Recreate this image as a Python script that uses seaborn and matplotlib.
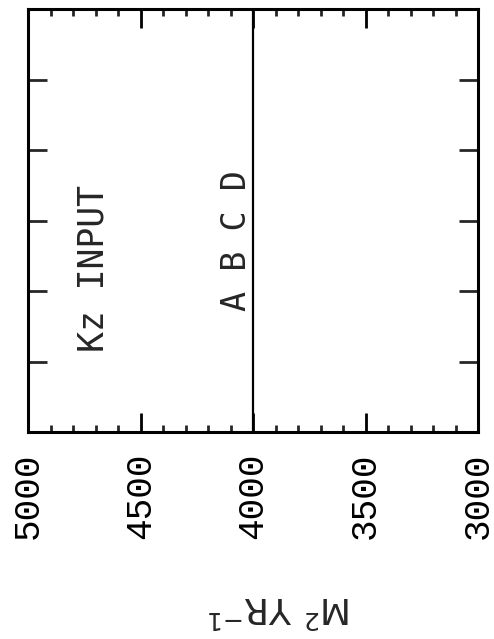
import matplotlib
matplotlib.use("Agg")
import matplotlib.pyplot as plt
import seaborn as sns
import numpy as np
from matplotlib.ticker import MultipleLocator

# data
kz_values = [4000, 4000]          # Kz input (constant) for runs A, B, C, D
positions = [0, 6]
x_ticks = [5000, 4500, 4000, 3500, 3000]
x_tick_labels = ["5000", "4500", "4000", "3500", "3000"]
y_ticks = [1, 2, 3, 4, 5]
runs_label = "A B C D"
title_text = "Kz INPUT"
unit_label = "M$^2$ YR$^{-1}$"

sns.set_style("ticks")
plt.rcParams['font.family'] = ['DejaVu Sans Mono', 'DejaVu Sans']
plt.rcParams['mathtext.fontset'] = 'dejavusans'

L, R, T, B = 28, 478, 9, 432
fig = plt.figure(figsize=(4.94, 6.39), dpi=100)
ax = fig.add_axes([L/494, 1-B/639, (R-L)/494, (B-T)/639])

sns.lineplot(x=kz_values, y=positions, orient="y", sort=False, estimator=None,
             color="black", linewidth=1.6, ax=ax)

ax.set_xlim(5000, 3000)
ax.set_ylim(0, 6)
ax.set_xticks(x_ticks)
ax.set_xticklabels(x_tick_labels, rotation=90, fontsize=26,
                   family=['Liberation Mono', 'DejaVu Sans'])
ax.xaxis.set_minor_locator(MultipleLocator(100))
ax.set_yticks(y_ticks)
ax.set_yticklabels([])

for s in ax.spines.values():
    s.set_linewidth(2.2)
    s.set_color("black")

ax.tick_params(axis="x", which="major", direction="in", length=14, width=2,
               top=True, bottom=True, pad=15, colors="black")
ax.tick_params(axis="x", which="minor", direction="in", length=5, width=2,
               top=True, bottom=True)
ax.tick_params(axis="y", which="major", direction="in", length=14, width=2,
               left=True, right=True)

def xdata(px):
    return 5000 - (px - L) * 2000 / (R - L)

def ydata(py):
    return 6 * (1 - (py - T) / (B - T))

ax.text(xdata(93), ydata(268), title_text, rotation=90, fontsize=25,
        ha="center", va="center")
ax.text(xdata(237), ydata(241), runs_label, rotation=90, fontsize=24,
        ha="center", va="center")

ax.set_xlabel(unit_label, rotation=180, fontsize=26, family="DejaVu Sans",
              ha="center", va="center")
ax.xaxis.set_label_coords((280 - L)/(R - L), -(607 - B)/(B - T))
ax.set_ylabel("")

fig.savefig("out.png", dpi=100)
